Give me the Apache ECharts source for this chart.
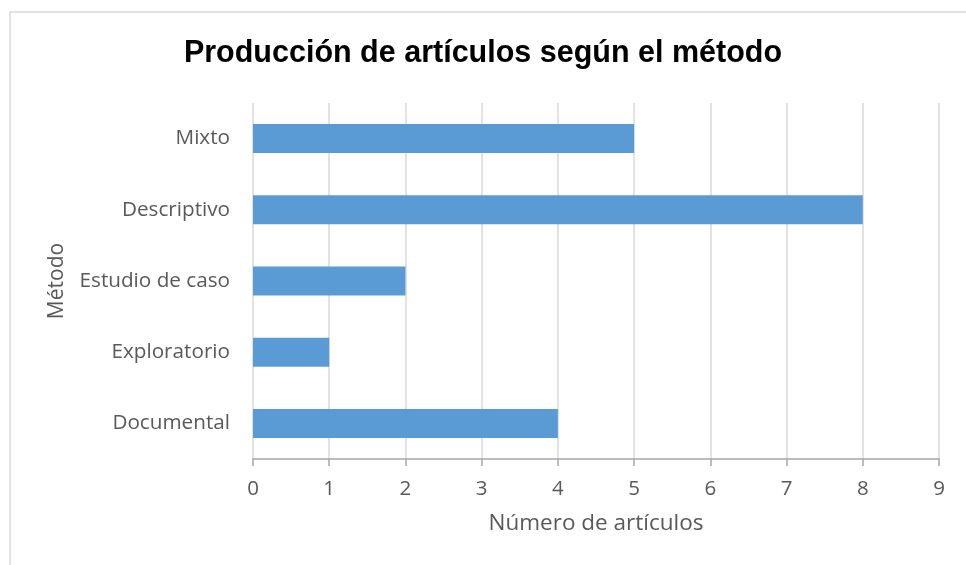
<!DOCTYPE html>
<html>
<head>
<meta charset="utf-8">
<script src="https://cdn.jsdelivr.net/npm/echarts@6/dist/echarts.min.js"></script>
<style>
  html, body { margin: 0; padding: 0; background: #fff; }
  #container { width: 966px; height: 565px; }
</style>
</head>
<body>
<div id="container"></div>
<script>
// datos (de abajo hacia arriba)
var metodos = ['Documental', 'Exploratorio', 'Estudio de caso', 'Descriptivo', 'Mixto'];
var articulos = [4, 1, 2, 8, 5];
var ejeMin = 0;
var ejeMax = 9;
var ejePaso = 1;

var dom = document.getElementById('container');
var myChart = echarts.init(dom, null, { renderer: 'canvas' });

var textColor = '#595959';
var font = '"Open Sans", "Noto Sans", sans-serif';

var option = {
    animation: false,
    backgroundColor: '#ffffff',
    title: {
        text: 'Producción de artículos según el método',
        left: 'center',
        top: 33,
        textStyle: {
            fontFamily: '"Liberation Sans", Arial, sans-serif',
            fontWeight: 'bold',
            fontSize: 30.5,
            color: '#000000'
        }
    },
    graphic: [{
        type: 'rect',
        z: -10,
        silent: true,
        shape: { x: 10, y: 12, width: 1000, height: 600 },
        style: { fill: 'none', stroke: '#d9d9d9', lineWidth: 1.5 }
    }],
    grid: {
        left: 253,
        right: 27,
        top: 103,
        bottom: 106
    },
    xAxis: {
        type: 'value',
        min: ejeMin,
        max: ejeMax,
        interval: ejePaso,
        name: 'Número de artículos',
        nameLocation: 'middle',
        nameGap: 53,
        nameTextStyle: { color: textColor, fontSize: 22.5, fontFamily: font },
        axisLine: { show: true, lineStyle: { color: '#a6a6a6', width: 1.5 } },
        axisTick: { show: true, length: 7, lineStyle: { color: '#a6a6a6', width: 1.5 } },
        axisLabel: { color: textColor, fontSize: 20.5, fontFamily: font, margin: 20 },
        splitLine: { show: true, lineStyle: { color: '#d9d9d9', width: 1.5 } }
    },
    yAxis: {
        type: 'category',
        data: metodos,
        name: 'Método',
        nameLocation: 'middle',
        nameRotate: 90,
        nameGap: 185,
        nameTextStyle: { color: textColor, fontSize: 21, fontFamily: font },
        axisLine: { show: false },
        axisTick: { show: false },
        axisLabel: { color: textColor, fontSize: 20.7, fontFamily: font, margin: 23 },
        splitLine: { show: false }
    },
    series: [{
        name: 'Número de artículos',
        type: 'bar',
        barWidth: 29,
        data: articulos,
        itemStyle: { color: '#5b9bd5' }
    }]
};

myChart.setOption(option);
window.addEventListener('resize', myChart.resize);
</script>
</body>
</html>
